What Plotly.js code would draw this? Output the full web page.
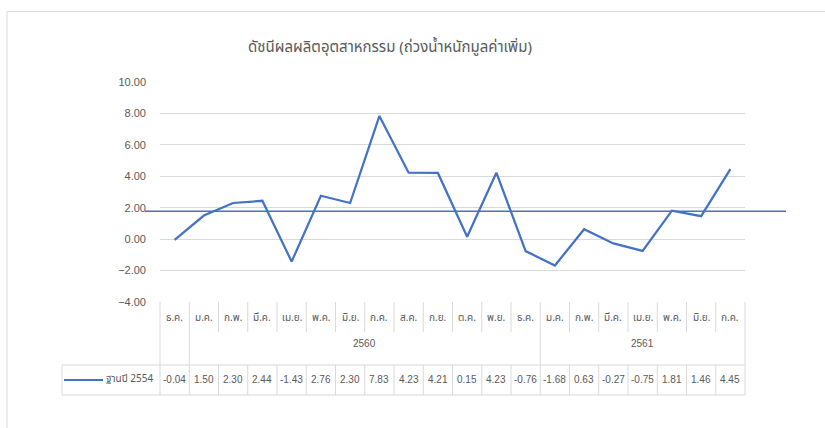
<!DOCTYPE html>
<html>
<head>
<meta charset="utf-8">
<script src="https://cdn.plot.ly/plotly-3.0.1.min.js"></script>
<style>html,body{margin:0;padding:0;background:#fff;}#chart{width:825px;height:428px;}</style>
</head>
<body>
<div id="chart"></div>
<script>
const titleText = 'ดัชนีผลผลิตอุตสาหกรรม (ถ่วงน้ำหนักมูลค่าเพิ่ม)';
const months = ['ธ.ค.','ม.ค.','ก.พ.','มี.ค.','เม.ย.','พ.ค.','มิ.ย.','ก.ค.','ส.ค.','ก.ย.','ต.ค.','พ.ย.','ธ.ค.','ม.ค.','ก.พ.','มี.ค.','เม.ย.','พ.ค.','มิ.ย.','ก.ค.'];
const values = [-0.04, 1.50, 2.30, 2.44, -1.43, 2.76, 2.30, 7.83, 4.23, 4.21, 0.15, 4.23, -0.76, -1.68, 0.63, -0.27, -0.75, 1.81, 1.46, 4.45];
const seriesName = 'ฐานปี 2554';
const years = ['2560', '2561'];
const yearFirstIdx = [1, 13];
const yearLastIdx = [12, 19];
const refLineValue = 1.77;
const yTickVals = [-4, -2, 0, 2, 4, 6, 8, 10];

const W = 825, H = 428;
const L = 160, R = 745, T = 82, B = 302;
const X = p => (p - L) / (R - L);
const Y = p => (B - p) / (B - T);

const blue = '#4472C4';
const grid = '#d9d9d9';
const txt = '#595959';
const thaiFont = "Tahoma, 'Noto Sans Thai', 'Noto Sans', 'DejaVu Sans', sans-serif";
const numFont = "'Liberation Sans Narrow', 'Arial Narrow', 'Liberation Sans', Arial, sans-serif";

const n = months.length;
const idx = months.map((m, i) => i);

const shapes = [];
const line = (x0, y0, x1, y1, extra) => Object.assign({type: 'line', xref: 'paper', yref: 'paper', x0, y0, x1, y1, line: {color: grid, width: 1}, layer: 'above'}, extra || {});

// outer chart border
shapes.push({type: 'rect', xref: 'paper', yref: 'paper', x0: X(7), y0: Y(440), x1: X(840), y1: Y(11.5), line: {color: '#d9d9d9', width: 1}, layer: 'below'});

// month dividers
const groupEdges = [0, yearFirstIdx[0], yearFirstIdx[1], n];
for (let i = 0; i <= n; i++) {
  shapes.push(line(i / n, Y(302), i / n, Y(332)));
  if (groupEdges.includes(i)) shapes.push(line(i / n, Y(332), i / n, Y(365)));
  shapes.push(line(i / n, Y(365), i / n, Y(395)));
}
shapes.push(line(X(62), Y(365), X(62), Y(395)));
shapes.push(line(X(62), Y(365), 1, Y(365)));
shapes.push(line(X(62), Y(395), 1, Y(395)));
// legend key
shapes.push(line(X(64), Y(380), X(103), Y(380), {line: {color: blue, width: 2}}));
// reference line
shapes.push({type: 'line', xref: 'paper', yref: 'y', x0: X(145), x1: X(786), y0: refLineValue, y1: refLineValue, line: {color: blue, width: 1.5}, layer: 'above'});

const annotations = [];
months.forEach((m, i) => {
  annotations.push({xref: 'x', yref: 'paper', x: i, y: Y(318), text: m, showarrow: false, font: {family: thaiFont, size: 10, color: txt}, yanchor: 'middle'});
  annotations.push({xref: 'x', yref: 'paper', x: i, y: Y(379), text: values[i].toFixed(2), showarrow: false, font: {family: numFont, size: 10, color: txt}, yanchor: 'middle'});
});
years.forEach((y, k) => {
  annotations.push({xref: 'x', yref: 'paper', x: (yearFirstIdx[k] + yearLastIdx[k]) / 2, y: Y(343), text: y, showarrow: false, font: {family: numFont, size: 10, color: txt}, yanchor: 'middle'});
});
annotations.push({xref: 'paper', yref: 'paper', x: X(104), y: Y(379), text: seriesName, showarrow: false, xanchor: 'left', yanchor: 'middle', font: {family: thaiFont, size: 10, color: txt}});

const trace = {
  x: idx, y: values, type: 'scatter', mode: 'lines', name: seriesName,
  line: {color: blue, width: 2.25}, hoverinfo: 'skip'
};

const layout = {
  width: W, height: H,
  margin: {l: L, r: W - R, t: T, b: H - B, pad: 0},
  paper_bgcolor: '#fff', plot_bgcolor: '#fff',
  showlegend: false,
  title: {text: titleText, font: {family: thaiFont, size: 15, color: txt}, xref: 'paper', x: X(390), xanchor: 'center', yref: 'container', y: 1 - 47 / H, yanchor: 'middle'},
  xaxis: {range: [-0.5, n - 0.5], showticklabels: false, showgrid: false, zeroline: false, showline: false, ticks: '', fixedrange: true},
  yaxis: {range: [-4, 10], tickvals: yTickVals, tickformat: '.2f', showgrid: true, gridcolor: grid, gridwidth: 1, zeroline: false, showline: false, ticks: '', ticklabelstandoff: 13, tickfont: {family: numFont, size: 11, color: txt}, fixedrange: true},
  shapes, annotations
};

Plotly.newPlot('chart', [trace], layout, {staticPlot: true, displayModeBar: false});
</script>
</body>
</html>
